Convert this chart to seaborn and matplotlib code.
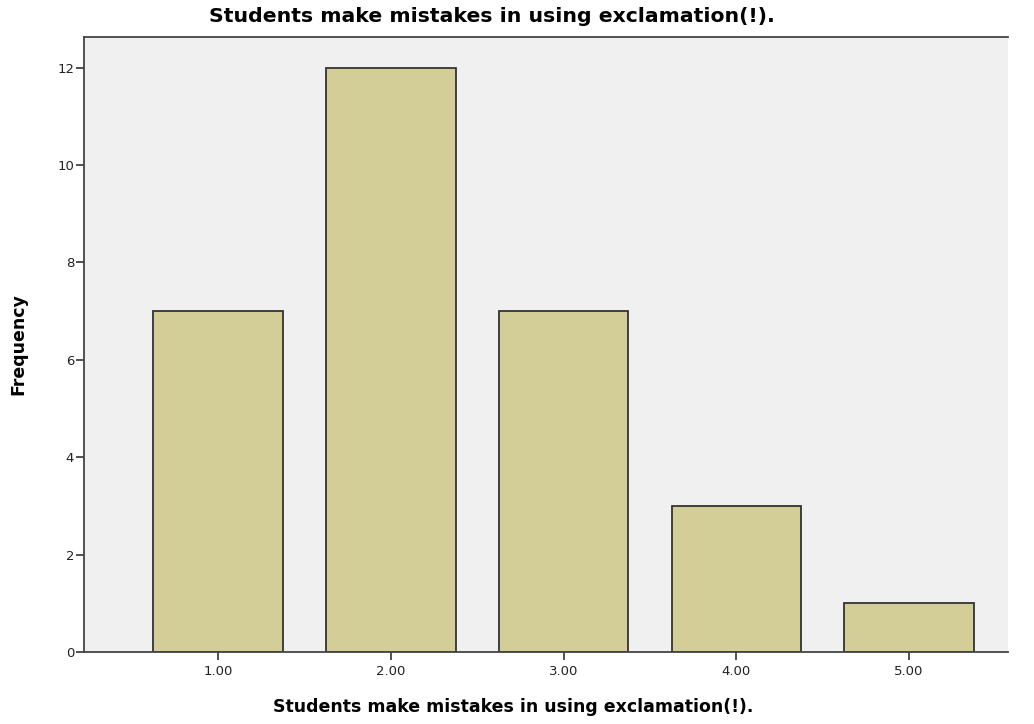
import matplotlib.pyplot as plt
import seaborn as sns
import pandas as pd

categories = ["1.00", "2.00", "3.00", "4.00", "5.00"]
frequency = [7, 12, 7, 3, 1]
title = "Students make mistakes in using exclamation(!)."

sns.set_style("white")
plt.rcParams["font.family"] = ["DejaVu Sans"]

df = pd.DataFrame({"cat": categories, "freq": frequency})

fig = plt.figure(figsize=(10.34, 7.24), dpi=100)
ax = fig.add_axes([0.0812, 0.0994, 0.8937, 0.8495])
ax.set_facecolor("#f0f0f0")

sns.barplot(data=df, x="cat", y="freq", color="#d3ce97", saturation=1,
            width=0.75, edgecolor="#333333", linewidth=1.3, ax=ax)

ax.set_xlim(-0.776, 4.573)
ax.set_ylim(0, 12.63)
ax.set_yticks([0, 2, 4, 6, 8, 10, 12])
ax.tick_params(axis="both", bottom=True, left=True, direction="out",
               length=6, width=1.2, color="#333333", labelcolor="#222222",
               labelsize=9.5, pad=3)
ax.tick_params(axis="y", pad=1)

for side in ["left", "bottom", "top"]:
    ax.spines[side].set_color("#444444")
    ax.spines[side].set_linewidth(1.3)
ax.spines["right"].set_visible(False)

# SPSS style: titles are not centred on the plot area
fig.text(492 / 1034, 1 - 16 / 724, title, fontsize=14.7, fontweight="bold",
         ha="center", va="center", color="black")
ax.set_xlabel(title, fontsize=12.5, fontweight="bold", color="black")
ax.xaxis.set_label_coords(0.465, -0.074)
ax.set_ylabel("Frequency", fontsize=12.5, fontweight="bold", color="black")
ax.yaxis.set_label_coords(-0.061, 0.5)

fig.savefig("out.png", dpi=100, facecolor="white")
